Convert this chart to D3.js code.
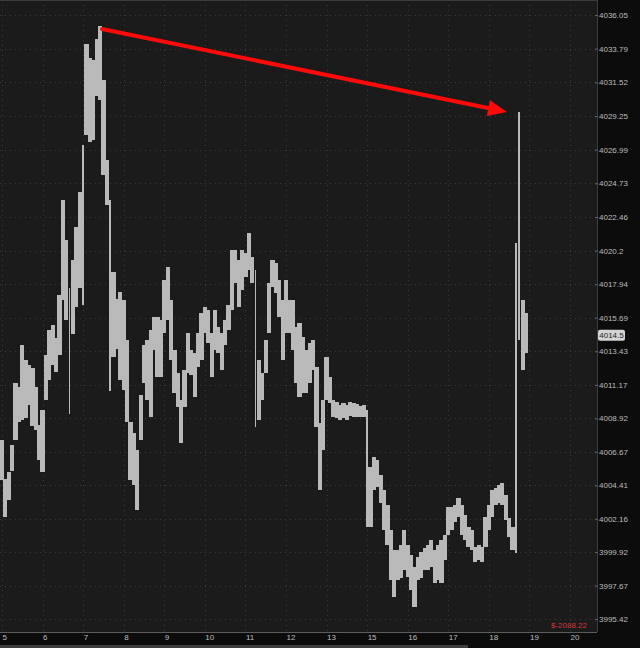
<!DOCTYPE html>
<html><head><meta charset="utf-8">
<script src="https://cdn.jsdelivr.net/npm/d3@7"></script>
<style>html,body{margin:0;padding:0;background:#0c0c0c;overflow:hidden} svg{display:block}</style>
</head><body><svg id="c" width="640" height="648"></svg>
<script>
// ---- data ----
const xTickLabels = ["5","6","7","8","9","10","11","12","13","15","16","17","18","19","20"];
const yTickLabels = ["4036.05","4033.79","4031.52","4029.25","4026.99","4024.73","4022.46","4020.2","4017.94","4015.69","4013.43","4011.17","4008.92","4006.67","4004.41","4002.16","3999.92","3997.67","3995.42"];
const barsPerSlot = 12; // 5-minute bars, 12 per labelled slot
const barHigh = [4007.46,4004.84,4005.31,4007.12,4011.30,4011.03,4013.85,4012.84,4012.51,4012.30,
4011.03,4008.47,4009.48,4013.18,4014.86,4015.20,4014.32,4017.22,4023.61,4020.92,
4017.69,4019.57,4021.79,4024.14,4027.31,4034.10,4033.16,4033.02,4034.44,4035.31,
4031.68,4026.30,4023.61,4018.76,4016.95,4017.42,4016.88,4014.19,4008.67,4007.93,
4006.79,4010.49,4013.85,4014.19,4014.86,4015.74,4015.74,4015.53,4018.22,4019.10,
4016.88,4013.52,4011.97,4010.15,4012.17,4014.66,4013.52,4013.31,4014.66,4016.00,
4016.41,4016.21,4014.66,4016.21,4015.06,4014.66,4015.53,4016.54,4020.24,4020.24,
4019.57,4020.24,4020.04,4021.39,4019.77,4018.90,4012.84,4011.97,4014.19,4018.02,
4019.57,4019.37,4018.22,4016.88,4018.22,4016.88,4016.88,4015.06,4015.33,4014.39,
4013.52,4013.99,4014.19,4012.37,4008.60,4010.15,4013.04,4011.70,4010.15,4010.02,
4009.82,4009.95,4009.82,4010.02,4009.95,4009.88,4009.75,4009.82,4009.48,4005.64,
4006.32,4006.12,4005.11,4004.10,4003.09,4001.41,4000.06,4000.06,4000.40,4001.41,
4000.40,3999.73,3998.92,3999.59,3999.93,4000.20,4000.40,4000.73,4000.06,4000.40,
4000.73,4001.07,4002.95,4002.95,4003.09,4003.56,4003.09,4002.42,4001.61,4001.41,
4000.26,4000.40,4000.26,4002.28,4003.09,4004.10,4004.23,4004.43,4004.57,4003.76,
4002.21,4001.61,4020.71,4029.53,4016.88,4016.00];
const barLow = [4004.77,4002.28,4003.42,4005.38,4007.46,4008.67,4008.81,4008.94,4009.82,4008.40,
4008.13,4006.12,4005.31,4010.15,4011.50,4012.51,4012.04,4013.18,4016.88,4015.53,
4009.21,4014.59,4016.41,4017.69,4016.54,4027.98,4027.51,4027.64,4030.60,4030.33,
4025.29,4023.27,4010.76,4013.04,4013.58,4011.50,4010.82,4008.67,4004.77,4004.43,
4002.75,4007.46,4011.30,4010.15,4009.01,4013.52,4011.70,4011.70,4014.66,4015.53,
4012.84,4010.62,4009.68,4007.26,4009.68,4011.97,4011.83,4010.35,4012.37,4012.84,
4014.66,4013.99,4011.70,4013.52,4013.31,4012.17,4013.85,4014.86,4016.21,4018.02,
4016.41,4017.55,4018.43,4018.90,4018.02,4008.34,4008.81,4010.15,4011.97,4014.66,
4017.75,4017.35,4015.74,4012.84,4014.66,4014.66,4013.52,4011.30,4010.35,4010.62,
4010.62,4011.30,4012.17,4008.34,4004.10,4006.79,4010.15,4009.95,4009.01,4008.94,
4008.81,4008.94,4008.81,4009.08,4009.01,4009.01,4009.01,4009.01,4001.61,4001.61,
4004.10,4004.30,4003.22,4001.41,4000.40,3998.04,3996.90,3998.04,3998.18,3998.72,
3998.25,3997.37,3996.23,3998.04,3998.18,3998.72,3998.72,3998.92,3997.84,3998.04,
3997.84,3999.39,4001.07,4001.41,4001.94,4002.28,4001.07,4000.73,4000.26,4000.06,
3999.25,3999.39,3999.25,4000.26,4001.41,4002.28,4003.09,4003.22,4003.09,4002.08,
4000.94,4000.06,3999.86,4014.19,4012.17,4013.31];
const lastPrice = 4014.5;
const plText = "$-2088.22";
const arrowFrom = {slot: 2.465, price: 4035.11};
const arrowTo = {slot: 12.447, price: 4029.53};

// ---- layout ----
const W = 640, H = 648, plotR = 597, plotB = 632;
const svg = d3.select("#c");
const font = "'Liberation Sans', Arial, sans-serif";

const x = d3.scaleLinear().domain([0, xTickLabels.length - 1]).range([2, 570]);
const yVals = yTickLabels.map(Number);
const y = d3.scaleLinear().domain([d3.min(yVals), d3.max(yVals)]).range([619, 15]);

svg.append("rect").attr("width", W).attr("height", H).attr("fill", "#0c0c0c");
svg.append("rect").attr("x", 0).attr("y", 0).attr("width", plotR).attr("height", plotB).attr("fill", "#1b1b1b");

// grid
const grid = svg.append("g").attr("stroke", "#3a3a3a").attr("stroke-dasharray", "1,4");
grid.selectAll("line.h").data(yVals).join("line")
  .attr("x1", 0).attr("x2", plotR).attr("y1", d => Math.round(y(d)) + 0.5).attr("y2", d => Math.round(y(d)) + 0.5);
grid.selectAll("line.v").data(d3.range(xTickLabels.length)).join("line")
  .attr("y1", 0).attr("y2", plotB).attr("x1", d => Math.round(x(d)) + 0.5).attr("x2", d => Math.round(x(d)) + 0.5);

// borders
svg.append("line").attr("x1", 0).attr("x2", plotR).attr("y1", 0.5).attr("y2", 0.5).attr("stroke", "#3c3c3c");
svg.append("line").attr("x1", plotR + 0.5).attr("x2", plotR + 0.5).attr("y1", 0).attr("y2", plotB).attr("stroke", "#3c3c3c");

// bars
const bw = x(1 / barsPerSlot) - x(0);
const bars = barHigh.map((h, i) => ({t: i / barsPerSlot, h, l: barLow[i]}));
const barW = d => (y(d.l) - y(d.h)) > 110 ? 1.6 : bw + 0.8;
svg.append("g").attr("shape-rendering", "crispEdges").selectAll("rect").data(bars).join("rect")
  .attr("x", d => x(d.t) - barW(d) / 2)
  .attr("width", barW)
  .attr("y", d => y(d.h))
  .attr("height", d => Math.max(1, y(d.l) - y(d.h)))
  .attr("fill", "#b9b9b9");

// arrow
const ax1 = x(arrowFrom.slot), ay1 = y(arrowFrom.price), ax2 = x(arrowTo.slot), ay2 = y(arrowTo.price);
const len = Math.hypot(ax2 - ax1, ay2 - ay1), ux = (ax2 - ax1) / len, uy = (ay2 - ay1) / len;
const headL = 19, headW = 8;
const bx = ax2 - ux * headL, by = ay2 - uy * headL;
svg.append("line").attr("x1", ax1).attr("y1", ay1).attr("x2", bx + ux * 2).attr("y2", by + uy * 2)
  .attr("stroke", "#ff0a0a").attr("stroke-width", 4).attr("stroke-linecap", "round");
svg.append("path").attr("fill", "#ff0a0a")
  .attr("d", `M${ax2},${ay2}L${bx - uy * headW},${by + ux * headW}L${bx + uy * headW},${by - ux * headW}Z`);

// right axis
const yAxis = d3.axisRight(y).tickValues(yVals).tickSize(3).tickFormat((d, i) => yTickLabels[i]);
const ya = svg.append("g").attr("transform", `translate(${plotR - 2},0)`).call(yAxis);
ya.select(".domain").remove();
ya.selectAll(".tick line").attr("stroke", "#666");
ya.selectAll("text").attr("x", 4).attr("fill", "#bdbdbd").style("font", `8px ${font}`);

// last price tag
const lp = svg.append("g").attr("transform", `translate(598,${y(lastPrice)})`);
lp.append("rect").attr("x", 0).attr("y", -5.5).attr("width", 27).attr("height", 11).attr("rx", 2).attr("fill", "#d4d4d4");
lp.append("text").attr("x", 13.5).attr("y", 3).attr("text-anchor", "middle").attr("fill", "#222")
  .style("font", `8px ${font}`).text(String(lastPrice));

// bottom axis
const xAxis = d3.axisBottom(x).tickValues(d3.range(xTickLabels.length)).tickSize(0).tickFormat(i => xTickLabels[i]);
const xa = svg.append("g").attr("transform", `translate(0,${plotB})`).call(xAxis);
xa.select(".domain").attr("stroke", "#5c5c5c").attr("d", `M0,0.5H${plotR}`);
xa.selectAll("text").attr("y", 8).attr("dy", 0).attr("text-anchor", "start").attr("fill", "#bdbdbd").style("font", `8px ${font}`);

// P/L text
svg.append("text").attr("x", 587).attr("y", 628).attr("text-anchor", "end").attr("fill", "#d23a3a")
  .style("font", `8px ${font}`).text(plText);

// bottom scroll bar
svg.append("rect").attr("x", 0).attr("y", 645).attr("width", 468).attr("height", 3).attr("fill", "#3e3e3e");
</script></body></html>
